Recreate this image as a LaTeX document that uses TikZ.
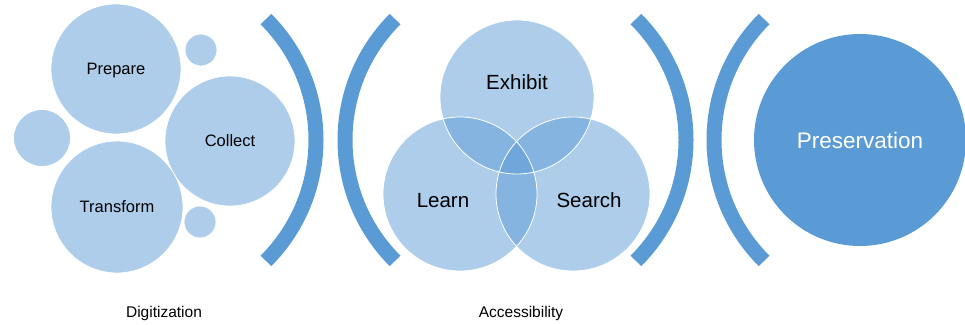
\documentclass[tikz,border=0pt]{standalone}
\usepackage{fontspec}
\setmainfont{Liberation Sans}
\usepackage{xcolor}
\usepackage{tikz}

\definecolor{accentBlue}{HTML}{5B9BD5}

\begin{document}
\begin{tikzpicture}[
        x=1pt, y=-1pt,
        bubbleNode/.style={circle, fill=accentBlue, fill opacity=0.5, text opacity=1,
        draw=white, line width=0.8pt, inner sep=0pt, align=center},
        smallText/.style={font=\fontsize{16.5}{18}\selectfont, text height=11.8pt, text depth=0pt},
        vennText/.style={font=\fontsize{20.5}{22}\selectfont, text height=14.7pt, text depth=0pt},
        stageText/.style={font=\fontsize{15.5}{17}\selectfont, text height=11.1pt, text depth=0pt},
        bigNode/.style={circle, fill=accentBlue, text=white, inner sep=0pt,
        minimum size=212pt, font=\fontsize{22.5}{24}\selectfont,
        text height=16.1pt, text depth=0pt},
        bracketArc/.style={draw=accentBlue, line width=15pt},
    ]
    \useasboundingbox (0,0) rectangle (965,324);
    % digitization bubbles
    \node[bubbleNode, smallText, minimum size=130pt] (prepare)   at (116,69)  {Prepare};
    \node[bubbleNode, smallText, minimum size=130pt] (collect)   at (230,141) {Collect};
    \node[bubbleNode, smallText, minimum size=132pt] (transform) at (117,207) {Transform};
    \node[bubbleNode, minimum size=57pt]             (dotLeft)   at (42,138)  {};
    \node[bubbleNode, minimum size=32pt]             (dotTop)    at (201,50)  {};
    \node[bubbleNode, minimum size=32pt]             (dotBottom) at (200,222) {};
    % accessibility venn
    \node[bubbleNode, draw=none, minimum size=154pt] (exhibit) at (517,97)  {};
    \node[bubbleNode, draw=none, minimum size=154pt] (learn)   at (460,194) {};
    \node[bubbleNode, draw=none, minimum size=154pt] (search)  at (573,194) {};
    \foreach \c in {exhibit,learn,search}
        \draw[white, line width=0.8pt] (\c.center) circle[radius=77];
    \node[vennText] (exhibitTxt) at (517,82)  {Exhibit};
    \node[vennText] (learnTxt)   at (443,200) {Learn};
    \node[vennText] (searchTxt)  at (589,200) {Search};
    % preservation
    \node[bigNode] (preservation) at (860,140) {Preservation};
    % brackets
    \draw[bracketArc] (145,140) ++(-45:171) arc[start angle=-45, end angle=45, radius=171];
    \draw[bracketArc] (516,140) ++(135:171) arc[start angle=135, end angle=225, radius=171];
    \draw[bracketArc] (515,140) ++(-45:171) arc[start angle=-45, end angle=45, radius=171];
    \draw[bracketArc] (885,140) ++(135:171) arc[start angle=135, end angle=225, radius=171];
    % stage labels
    \node[stageText] (digitization)  at (164,312) {Digitization};
    \node[stageText] (accessibility) at (521,312) {Accessibility};
\end{tikzpicture}
\end{document}
